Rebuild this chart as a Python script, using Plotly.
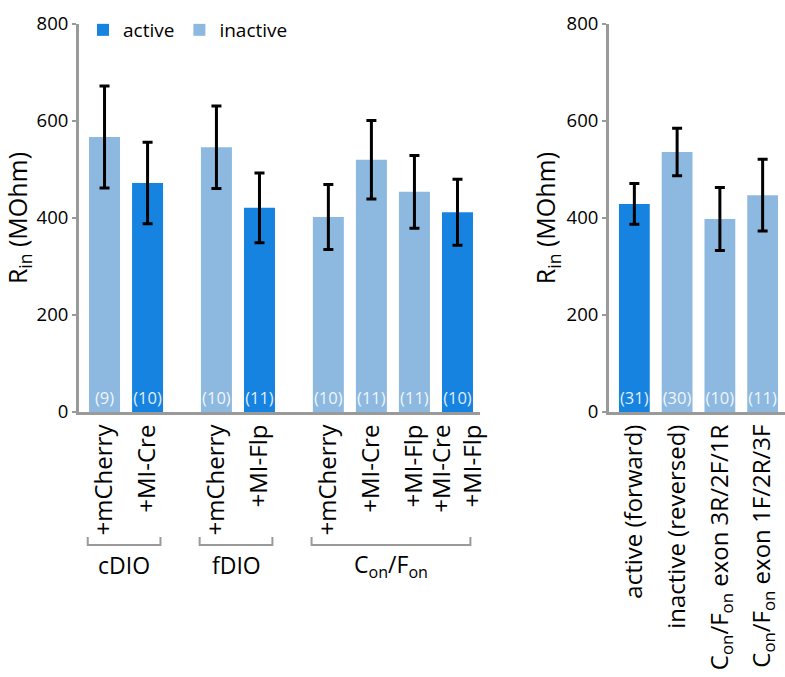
import plotly.graph_objects as go

# ---------------- data ----------------
left_labels = ["+mCherry", "+MI-Cre", "+mCherry", "+MI-Flp",
               "+mCherry", "+MI-Cre", "+MI-Flp", "+MI-Cre<br>+MI-Flp"]
left_groups = ["cDIO", "fDIO", "C<sub>on</sub>/F<sub>on</sub>"]
left_group_sizes = [2, 2, 4]
left_means = [567, 472, 546, 421, 402, 520, 454, 412]
left_errs = [105, 84, 85, 72, 67, 81, 75, 68]
left_n = [9, 10, 10, 11, 10, 11, 11, 10]
left_status = ["inactive", "active", "inactive", "active",
               "inactive", "inactive", "inactive", "active"]

right_labels = ["active (forward)", "inactive (reversed)",
                "C<sub>on</sub>/F<sub>on</sub> exon 3R/2F/1R",
                "C<sub>on</sub>/F<sub>on</sub> exon 1F/2R/3F"]
right_means = [429, 536, 398, 447]
right_errs = [42, 49, 65, 74]
right_n = [31, 30, 10, 11]
right_status = ["active", "inactive", "inactive", "inactive"]

y_ticks = [0, 200, 400, 600, 800]

# ---------------- style ----------------
FONT = "Open Sans"
COLORS = {"active": "#1783E0", "inactive": "#8DB9E1"}
AXIS_GRAY = "#9a9a9a"
W, H = 785, 677
GROUP_GAP = 0.6
BAR_W = 0.72

# positions for left (with gaps between groups)
left_pos = []
p = 0.0
group_spans = []
for gi, size in enumerate(left_group_sizes):
    start = p
    for k in range(size):
        left_pos.append(p)
        p += 1.0
    group_spans.append((start, p - 1.0))
    p += GROUP_GAP
right_pos = [float(i) for i in range(len(right_labels))]

fig = go.Figure()


def add_bars(pos, means, errs, ns, status, xa, ya, show_legend):
    for st in ["active", "inactive"]:
        idx = [i for i, s in enumerate(status) if s == st]
        if not idx:
            continue
        fig.add_trace(go.Bar(
            x=[pos[i] for i in idx],
            y=[means[i] for i in idx],
            width=BAR_W,
            marker=dict(color=COLORS[st], line=dict(width=0)),
            error_y=dict(type="data", array=[errs[i] for i in idx],
                         color="black", thickness=3, width=5),
            text=[f"({ns[i]})" for i in idx],
            textposition="inside",
            insidetextanchor="start",
            textangle=0,
            constraintext="none",
            textfont=dict(family=FONT, size=16.5, color="rgba(255,255,255,0.88)"),
            name=st,
            legendgroup=st,
            showlegend=show_legend,
            xaxis=xa, yaxis=ya,
            hoverinfo="skip",
        ))


add_bars(left_pos, left_means, left_errs, left_n, left_status, "x", "y", True)
add_bars(right_pos, right_means, right_errs, right_n, right_status, "x2", "y2", False)

y_bottom = 1 - 412 / H
y_top = 1 - 24 / H

common_x = dict(showline=True, linecolor=AXIS_GRAY, linewidth=3, ticks="",
                showgrid=False, zeroline=False, tickangle=-90,
                tickfont=dict(family=FONT, size=24, color="black"))
common_y = dict(range=[0, 800], tickvals=y_ticks, showline=True,
                linecolor=AXIS_GRAY, linewidth=3, ticks="outside",
                ticklen=4, tickwidth=2, tickcolor=AXIS_GRAY,
                showgrid=False, zeroline=False,
                tickfont=dict(family=FONT, size=18.5, color="black"),
                title=dict(text="R<sub>in</sub> (MOhm)",
                           font=dict(family=FONT, size=25, color="black"),
                           standoff=4))

fig.update_layout(
    width=W, height=H,
    margin=dict(l=0, r=0, t=0, b=0),
    template="none",
    paper_bgcolor="white", plot_bgcolor="white",
    barmode="overlay",
    font=dict(family=FONT, color="black"),
    xaxis=dict(domain=[79 / W, 480 / W], range=[-0.593, left_pos[-1] + 0.523],
               tickvals=left_pos, ticktext=left_labels, anchor="y", **common_x),
    yaxis=dict(domain=[y_bottom, y_top], anchor="x", **common_y),
    xaxis2=dict(domain=[609 / W, 1.0], range=[-0.593, right_pos[-1] + 0.523],
                tickvals=right_pos, ticktext=right_labels, anchor="y2", **common_x),
    yaxis2=dict(domain=[y_bottom, y_top], anchor="x2", **common_y),
    legend=dict(orientation="h", x=83 / W, y=1 - 11 / H, xanchor="left",
                yanchor="top", font=dict(family=FONT, size=19, color="black"),
                bgcolor="rgba(0,0,0,0)", traceorder="normal",
                itemwidth=30),
)

# group brackets + labels under left axis
br_y0 = 1 - 545 / H
br_y1 = 1 - 537 / H
for (s, e), gname in zip(group_spans, left_groups):
    x0 = s - 0.39
    x1 = e + 0.3
    fig.add_shape(type="path",
                  path=f"M {x0},{br_y1} L {x0},{br_y0} L {x1},{br_y0} L {x1},{br_y1}",
                  xref="x", yref="paper",
                  line=dict(color=AXIS_GRAY, width=2))
    fig.add_annotation(x=(x0 + x1) / 2, y=1 - 565 / H, xref="x", yref="paper",
                       text=gname, showarrow=False, yanchor="middle",
                       font=dict(family=FONT, size=23, color="black"))

fig.write_html("out.html",
               config={"displayModeBar": False},
               post_script="document.body.style.margin='0';document.body.style.overflow='hidden';")
